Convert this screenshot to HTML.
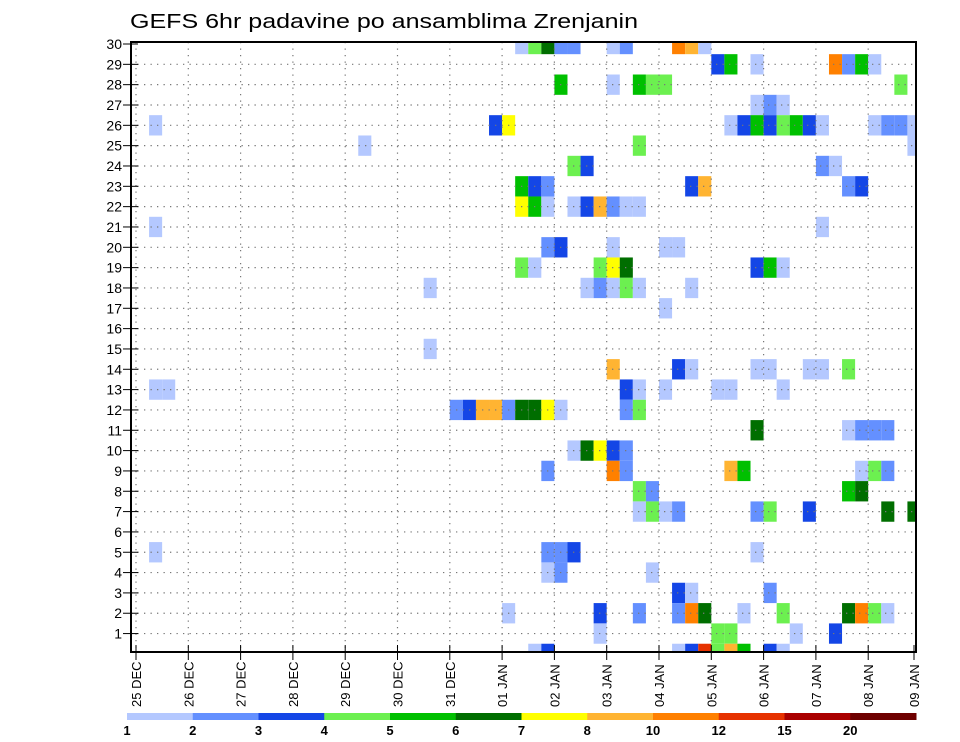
<!DOCTYPE html>
<html><head><meta charset="utf-8"><style>
html,body{margin:0;padding:0;background:#fff;}
svg{display:block;font-family:"Liberation Sans",sans-serif;}
</style></head><body>
<svg id="chart" width="960" height="742" viewBox="0 0 960 742">
<text x="130" y="28" font-size="20" textLength="508" lengthAdjust="spacingAndGlyphs" fill="#000">GEFS 6hr padavine po ansamblima Zrenjanin</text>
<defs><clipPath id="plotclip"><rect x="131" y="42" width="785" height="610"/></clipPath></defs>
<g id="cells" clip-path="url(#plotclip)"></g>
<g id="grid"></g>
<g id="axes"></g>
<g id="cbar"></g>
</svg>
<script>
// members (y), 6-hour step index from 25 DEC 00Z (x), precipitation value (mm)
const members = [
30,30,30,30,30,30,30,30,30,30,
29,29,29,29,29,29,29,
28,28,28,28,28,28,
27,27,27,
26,26,26,26,26,26,26,26,26,26,26,26,26,26,26,
25,25,25,
24,24,24,24,
23,23,23,23,23,23,23,
22,22,22,22,22,22,22,22,22,
21,21,
20,20,20,20,20,
19,19,19,19,19,19,19,19,
18,18,18,18,18,18,18,
17,
15,
14,14,14,14,14,14,14,14,
13,13,13,13,13,13,13,13,
12,12,12,12,12,12,12,12,12,12,12,
11,11,11,11,11,
10,10,10,10,10,
9,9,9,9,9,9,9,9,
8,8,8,8,
7,7,7,7,7,7,7,7,7,
5,5,5,5,5,
4,4,4,
3,3,3,
2,2,2,2,2,2,2,2,2,2,2,2,
1,1,1,1,1,
0,0,0,0,0,0,0,0,0,0
];
const steps = [
29,30,31,32,33,36,37,41,42,43,
44,45,47,53,54,55,56,
32,36,38,39,40,58,
47,48,49,
1,27,28,45,46,47,48,49,50,51,52,56,57,58,59,
17,38,59,
33,34,52,53,
29,30,31,42,43,54,55,
29,30,31,33,34,35,36,37,38,
1,52,
31,32,36,40,41,
29,30,35,36,37,47,48,49,
22,34,35,36,37,38,42,
40,
22,
36,41,42,47,48,51,52,54,
1,2,37,38,40,44,45,49,
24,25,26,27,28,29,30,31,32,37,38,
47,54,55,56,57,
33,34,35,36,37,
31,36,37,45,46,55,56,57,
38,39,54,55,
38,39,40,41,47,48,51,57,59,
1,31,32,33,47,
31,32,39,
41,42,48,
28,35,38,41,42,43,46,49,54,55,56,57,
35,44,45,50,53,
30,31,41,42,43,44,45,46,48,49
];
const values = [
1.5,4.5,6.5,2.5,2.5,1.5,2.5,11,9,1.5,
3.5,5.5,1.5,11,2.5,5.5,1.5,
5.5,1.5,5.5,4.5,4.5,4.5,
1.5,2.5,1.5,
1.5,3.5,7.5,1.5,3.5,5.5,3.5,4.5,5.5,3.5,1.5,1.5,2.5,2.5,1.5,
1.5,4.5,1.5,
4.5,3.5,2.5,1.5,
5.5,3.5,2.5,3.5,9,2.5,3.5,
7.5,5.5,1.5,1.5,3.5,9,2.5,1.5,1.5,
1.5,1.5,
2.5,3.5,1.5,1.5,1.5,
4.5,1.5,4.5,7.5,6.5,3.5,5.5,1.5,
1.5,1.5,2.5,1.5,4.5,1.5,1.5,
1.5,
1.5,
9,3.5,1.5,1.5,1.5,1.5,1.5,4.5,
1.5,1.5,3.5,1.5,1.5,1.5,1.5,1.5,
2.5,3.5,9,9,2.5,6.5,6.5,7.5,1.5,2.5,4.5,
6.5,1.5,2.5,2.5,2.5,
1.5,6.5,7.5,3.5,2.5,
2.5,11,2.5,9,5.5,1.5,4.5,2.5,
4.5,2.5,5.5,6.5,
1.5,4.5,1.5,2.5,2.5,4.5,3.5,6.5,6.5,
1.5,2.5,2.5,3.5,1.5,
1.5,2.5,1.5,
3.5,1.5,2.5,
1.5,3.5,2.5,2.5,11,6.5,1.5,4.5,6.5,11,4.5,1.5,
1.5,4.5,4.5,1.5,3.5,
1.5,3.5,1.5,3.5,13.5,4.5,9,5.5,3.5,1.5
];
const levels = [1,2,3,4,5,6,7,8,10,12,15,20];
const levelLabels = ["1","2","3","4","5","6","7","8","10","12","15","20"];
const palette = ["#b4c8ff","#6490ff","#1446e6","#6cf050","#00c000","#006e00","#ffff00","#ffb432","#ff8000","#e63200","#aa0000","#6e0000"];
const dayLabels = ["25 DEC","26 DEC","27 DEC","28 DEC","29 DEC","30 DEC","31 DEC","01 JAN","02 JAN","03 JAN","04 JAN","05 JAN","06 JAN","07 JAN","08 JAN","09 JAN"];
const memberTicks = [1,2,3,4,5,6,7,8,9,10,11,12,13,14,15,16,17,18,19,20,21,22,23,24,25,26,27,28,29,30];

const NS = "http://www.w3.org/2000/svg";
const X0 = 136, DAY = 52.3, STEP = DAY/4;
const Y30 = 44, ROW = 20.33;
const xDay = d => X0 + d*DAY;
const xStep = s => X0 + s*STEP;
const yMem = m => Y30 + (30-m)*ROW;
function colorFor(v){let i=-1;for(let k=0;k<levels.length;k++){if(v>=levels[k])i=k;}return i<0?null:palette[i];}
function mk(tag, attrs, parent){const e=document.createElementNS(NS,tag);for(const k in attrs)e.setAttribute(k,attrs[k]);parent.appendChild(e);return e;}

const gCells=document.getElementById('cells');
for(let i=0;i<members.length;i++){
  const col=colorFor(values[i]); if(!col) continue;
  const r=mk('rect',{x:xStep(steps[i]).toFixed(2),y:(yMem(members[i])-ROW/2).toFixed(2),width:STEP.toFixed(2),height:ROW.toFixed(2),fill:col},gCells);
  
  
}
const gGrid=document.getElementById('grid');
memberTicks.forEach(m=>{
  if(m===30) return;
  const l=mk('line',{x1:131,x2:916,y1:yMem(m),y2:yMem(m),stroke:"#777","stroke-width":1.2,"stroke-dasharray":"1.3 5.2"},gGrid);
  
  
});
dayLabels.forEach((t,d)=>{
  const x=xDay(d); if(x>915) return;
  const l=mk('line',{x1:x,x2:x,y1:42,y2:652,stroke:"#777","stroke-width":1.2,"stroke-dasharray":"1.3 5.2"},gGrid);
  
  
});
const gAx=document.getElementById('axes');
const fr=mk('rect',{x:131,y:42,width:785,height:610,fill:"none",stroke:"#000","stroke-width":2},gAx);


memberTicks.forEach(m=>{
  const y=yMem(m);
  const tk=mk('line',{x1:123,x2:138,y1:y,y2:y,stroke:"#000","stroke-width":1},gAx);
  
  
  const tx=mk('text',{x:122,y:y+5,"font-size":14,"text-anchor":"end",fill:"#000"},gAx);
  tx.textContent=String(m);
  
  
});
dayLabels.forEach((t,d)=>{
  const x=Math.min(xDay(d),914);
  const tk=mk('line',{x1:x,x2:x,y1:645,y2:660,stroke:"#000","stroke-width":1},gAx);
  
  
  const tx=mk('text',{x:0,y:0,"font-size":13,"text-anchor":"start",fill:"#000",transform:`translate(${x+5},707) rotate(-90)`},gAx);
  tx.textContent=t;
  
  
});
const gCb=document.getElementById('cbar');
const CB0=127, CBW=(916-127)/palette.length;
palette.forEach((c,i)=>{
  const r=mk('rect',{x:(CB0+i*CBW).toFixed(2),y:713,width:(CBW+0.5).toFixed(2),height:7,fill:c},gCb);
  
  
});
levelLabels.forEach((t,i)=>{
  const tx=mk('text',{x:(CB0+i*CBW).toFixed(2),y:735,"font-size":13,"font-weight":"bold","text-anchor":"middle",fill:"#000"},gCb);
  tx.textContent=t;
  
  
});
</script>
</body></html>
